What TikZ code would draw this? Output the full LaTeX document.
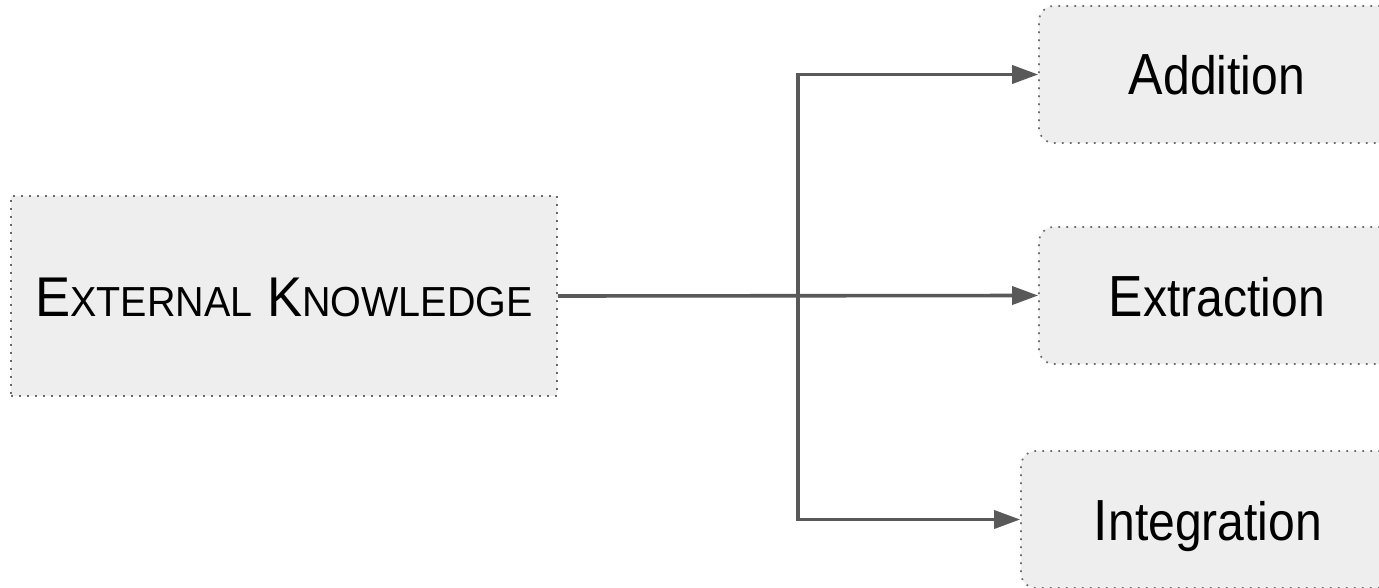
\documentclass[tikz,border=0pt]{standalone}
\usepackage{fontspec}
\setmainfont{Liberation Sans}
\usepackage{graphicx}
\usetikzlibrary{arrows.meta}
\definecolor{boxfill}{HTML}{EEEEEE}
\definecolor{dotline}{HTML}{6A6A6A}
\definecolor{linec}{HTML}{595959}
\newcommand{\bigfirst}[2]{\scalebox{0.89}[1]{\fontsize{58}{60}\selectfont #1\fontsize{54}{60}\selectfont #2}}
\newcommand{\sml}[1]{{\fontsize{42}{50}\selectfont #1}}
\begin{document}
\begin{tikzpicture}[x=1pt,y=-1pt,
  box/.style={draw=dotline, fill=boxfill, line width=1.7pt, dash pattern=on 1.7pt off 6.3pt,
    inner sep=0pt, text depth=0pt, align=center},
  rbox/.style={box, rounded corners=15pt, minimum width=356pt, minimum height=137pt, text height=41pt},
  arr/.style={draw=linec, line width=3.6pt, -{Triangle[length=26pt,width=18pt]}}]
\useasboundingbox (0,0) rectangle (1379,588);
\fill[white] (0,0) rectangle (1379,588);
\node[box, minimum width=546pt, minimum height=200pt, text height=40pt] (ext) at (284,296)
  {\scalebox{0.94}[1]{\fontsize{56}{60}\selectfont E\sml{XTERNAL} K\sml{NOWLEDGE}}};
\node[rbox] (add) at (1217,74.5) {\bigfirst{A}{ddition}};
\node[rbox] (extr) at (1217,295.5) {\bigfirst{E}{xtraction}};
\node[rbox, minimum width=374pt] (integ) at (1208,519.5) {\bigfirst{I}{ntegration}};
\coordinate (j) at (798,296);
\draw[arr] (ext.east) -- (extr.west);
\draw[arr] (j) |- (add.west);
\draw[arr] (j) |- (integ.west);
\end{tikzpicture}
\end{document}
